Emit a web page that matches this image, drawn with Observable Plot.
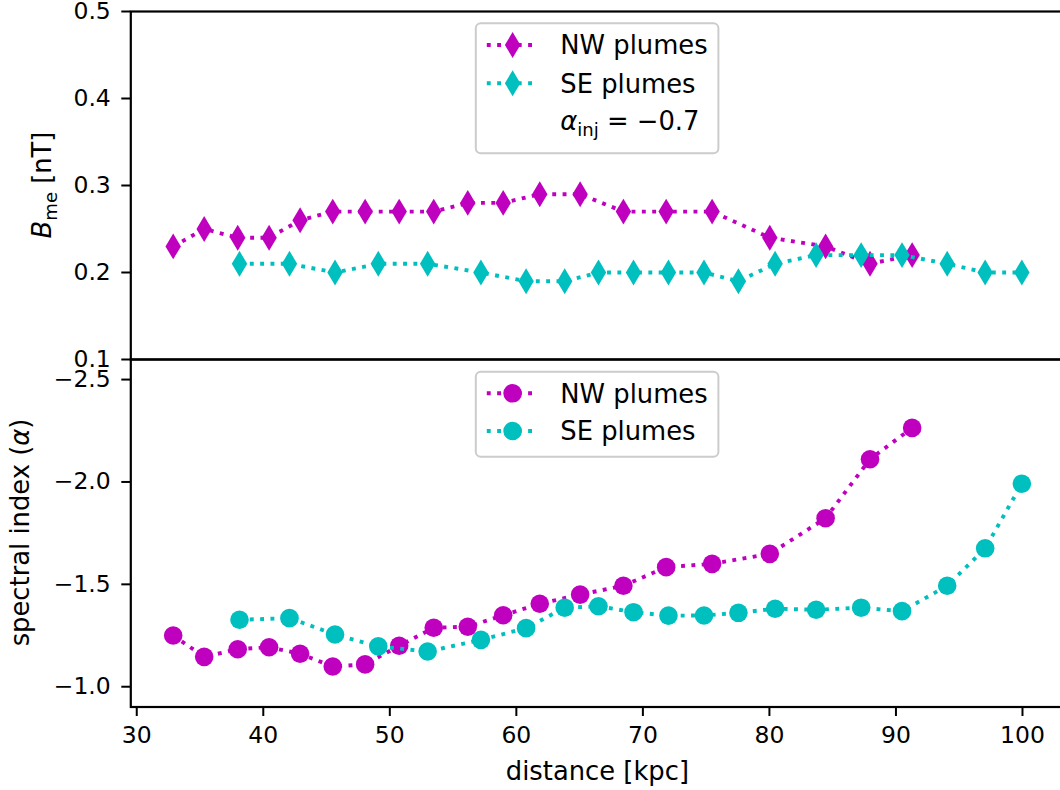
<!DOCTYPE html>
<html><head><meta charset="utf-8">
<script src="https://cdn.jsdelivr.net/npm/d3@7"></script>
<script src="https://cdn.jsdelivr.net/npm/@observablehq/plot@0.6"></script>
<style>
body{margin:0;background:#fff;}
#wrap{position:relative;width:1060px;height:790px;overflow:hidden;background:#fff;font-family:"DejaVu Sans";}
#wrap svg{position:absolute;left:0;top:0;}
</style></head><body><div id="wrap"></div>
<script>
// ---- data ----
const seriesNames = ["NW plumes", "SE plumes"];
const seriesColors = ["#bf00bf", "#00bfbf"];
const distNW = [32.88, 35.33, 37.98, 40.46, 42.91, 45.49, 48.05, 50.74, 53.47, 56.16, 58.96, 61.85, 65.04, 68.46, 71.84, 75.47, 80.03, 84.44, 87.95, 91.28];
const distSE = [38.12, 42.07, 45.67, 49.09, 52.99, 57.20, 60.77, 63.82, 66.49, 69.26, 72.02, 74.83, 77.55, 80.45, 83.69, 87.25, 90.48, 94.05, 97.05, 99.95];
const bNW = [0.23, 0.25, 0.24, 0.24, 0.26, 0.27, 0.27, 0.27, 0.27, 0.28, 0.28, 0.29, 0.29, 0.27, 0.27, 0.27, 0.24, 0.23, 0.21, 0.22];
const bSE = [0.21, 0.21, 0.20, 0.21, 0.21, 0.20, 0.19, 0.19, 0.20, 0.20, 0.20, 0.20, 0.19, 0.21, 0.22, 0.22, 0.22, 0.21, 0.20, 0.20];
const alphaNW = [-1.250, -1.146, -1.183, -1.193, -1.161, -1.099, -1.109, -1.200, -1.288, -1.293, -1.349, -1.405, -1.450, -1.493, -1.584, -1.600, -1.649, -1.823, -2.111, -2.264];
const alphaSE = [-1.327, -1.335, -1.255, -1.197, -1.172, -1.229, -1.286, -1.386, -1.393, -1.364, -1.347, -1.348, -1.361, -1.381, -1.376, -1.386, -1.369, -1.493, -1.676, -1.991];
const bTicks = [0.1, 0.2, 0.3, 0.4, 0.5];
const alphaTicks = [-2.5, -2.0, -1.5, -1.0];
const distTicks = [30, 40, 50, 60, 70, 80, 90, 100];
const bDomain = [0.1, 0.5];
const alphaDomain = [-0.901, -2.598];
const distDomain = [29.53, 103.36];
const xLabel = "distance [kpc]";
const injLabel = "−0.7";

// ---- build tables ----
const toRows = (dist, vals, s) => dist.map((d, i) => ({d, v: vals[i], s}));
const bRows = [toRows(distNW, bNW, seriesNames[0]), toRows(distSE, bSE, seriesNames[1])];
const aRows = [toRows(distNW, alphaNW, seriesNames[0]), toRows(distSE, alphaSE, seriesNames[1])];

// thin diamond (matplotlib 'd')
const thinDiamond = {draw(ctx, size) {
  const r = Math.sqrt(size / Math.PI), hy = r * 1.39, hx = r * 0.83;
  ctx.moveTo(0, -hy); ctx.lineTo(hx, 0); ctx.lineTo(0, hy); ctx.lineTo(-hx, 0); ctx.closePath();
}};

const W = 1066, H = 790, ML = 130.3, MR = W - 1064.5;
const TOP = 11, MID = 359, BOT = 706.5;
const LW = 3.9, DASH = `${LW},${(LW * 1.65).toFixed(2)}`;
const R = 9.3;
const TICKFS = 23.5, FS = 25.8;
const color = {domain: seriesNames, range: seriesColors};
const common = {width: W, height: H, marginLeft: ML, marginRight: MR,
  style: {background: "transparent", fontFamily: "DejaVu Sans", color: "black", maxWidth: "none", overflow: "visible"}};

function seriesMarks(groups, symbol) {
  const m = [];
  for (const rows of groups) {
    m.push(Plot.line(rows, {x: "d", y: "v", stroke: "s", strokeWidth: LW, strokeDasharray: DASH, strokeLinecap: "butt"}));
    m.push(Plot.dot(rows, {x: "d", y: "v", fill: "s", symbol, r: R, stroke: null}));
  }
  return m;
}

const topPlot = Plot.plot({...common, marginTop: TOP, marginBottom: H - MID,
  x: {domain: distDomain, axis: null},
  y: {domain: bDomain},
  color,
  marks: [
    Plot.axisY({ticks: bTicks, tickSize: 9, tickPadding: 11, fontSize: TICKFS, tickFormat: d3.format(".1f"), label: null, strokeWidth: 2}),
    ...seriesMarks(bRows, thinDiamond),
    Plot.frame({stroke: "black", strokeWidth: 2.2})
  ]});

const botPlot = Plot.plot({...common, marginTop: MID, marginBottom: H - BOT,
  x: {domain: distDomain},
  y: {domain: alphaDomain},
  color,
  marks: [
    Plot.axisY({ticks: alphaTicks, tickSize: 9, tickPadding: 11, fontSize: TICKFS, tickFormat: d3.format(".1f"), label: null, strokeWidth: 2}),
    Plot.axisX({ticks: distTicks, tickSize: 9.5, tickPadding: 10, fontSize: TICKFS, tickFormat: d => String(d), label: null, strokeWidth: 2}),
    ...seriesMarks(aRows, "circle"),
    Plot.frame({stroke: "black", strokeWidth: 2.2})
  ]});

const wrap = document.getElementById("wrap");
wrap.appendChild(topPlot);
wrap.appendChild(botPlot);

// ---- overlay: axis labels and legends ----
const ov = d3.create("svg").attr("width", 1060).attr("height", 790)
  .style("font-family", "DejaVu Sans").style("overflow", "visible");

// y label top
const yl1 = ov.append("text").attr("transform", `translate(51,185) rotate(-90)`)
  .attr("text-anchor", "middle").attr("font-size", FS).attr("fill", "black");
yl1.append("tspan").attr("font-style", "italic").text("B");
yl1.append("tspan").attr("font-size", FS * 0.7).attr("dy", 6).text("me");
yl1.append("tspan").attr("dy", -6).text(" [nT]");
// y label bottom
const yl2 = ov.append("text").attr("transform", `translate(29,532.5) rotate(-90)`)
  .attr("text-anchor", "middle").attr("font-size", FS).attr("fill", "black");
yl2.append("tspan").text("spectral index (");
yl2.append("tspan").attr("font-style", "italic").text("α");
yl2.append("tspan").text(")");
// x label
ov.append("text").attr("x", 597.4).attr("y", 780).attr("text-anchor", "middle")
  .attr("font-size", FS).attr("fill", "black").text(xLabel);

function legend(x0, y0, w, h, entries, symbolPath) {
  const g = ov.append("g");
  g.append("rect").attr("x", x0).attr("y", y0).attr("width", w).attr("height", h).attr("rx", 5)
    .attr("fill", "white").attr("fill-opacity", 0.8).attr("stroke", "#cccccc").attr("stroke-width", 2);
  entries.forEach(e => {
    if (e.color) {
      g.append("line").attr("x1", x0 + 11).attr("x2", x0 + 62.5).attr("y1", e.y).attr("y2", e.y)
        .attr("stroke", e.color).attr("stroke-width", LW).attr("stroke-dasharray", DASH);
      g.append("path").attr("d", symbolPath).attr("transform", `translate(${x0 + 36.8},${e.y})`).attr("fill", e.color);
    }
    const t = g.append("text").attr("x", x0 + 84.5).attr("y", e.y + FS * 0.36).attr("font-size", FS).attr("fill", "black");
    if (e.label) t.text(e.label);
    else {
      t.append("tspan").attr("font-style", "italic").text("α");
      t.append("tspan").attr("font-size", FS * 0.7).attr("dy", 6).text("inj");
      t.append("tspan").attr("dy", -6).text(" = " + injLabel);
    }
  });
}
const diamondPath = d3.symbol(thinDiamond, R * R * Math.PI)();
const circlePath = d3.symbol(d3.symbolCircle, R * R * Math.PI)();
legend(475.8, 23.3, 242.6, 130, [
  {label: seriesNames[0], color: seriesColors[0], y: 45},
  {label: seriesNames[1], color: seriesColors[1], y: 83.3},
  {label: null, color: null, y: 120.5}
], diamondPath);
legend(475.8, 371.7, 242.6, 85, [
  {label: seriesNames[0], color: seriesColors[0], y: 393.3},
  {label: seriesNames[1], color: seriesColors[1], y: 431}
], circlePath);

wrap.appendChild(ov.node());
</script></body></html>
